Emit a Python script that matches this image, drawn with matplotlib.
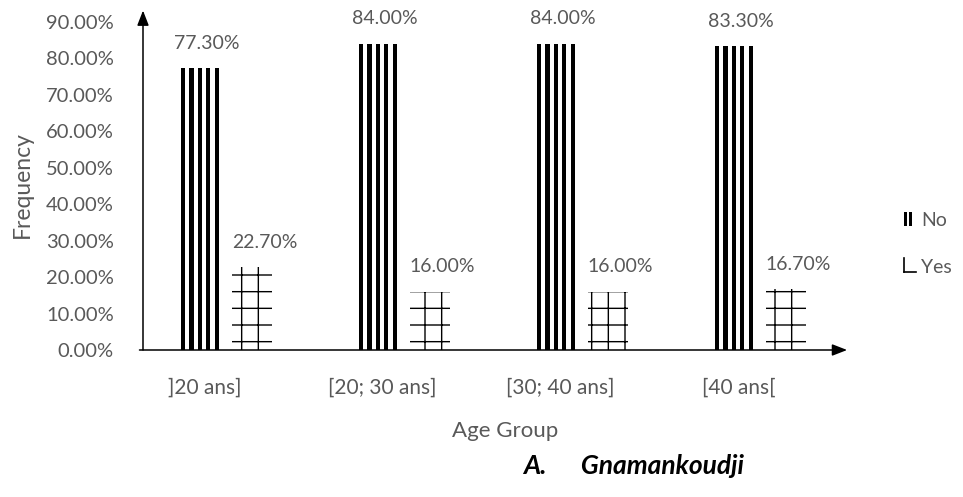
import numpy as np
import matplotlib.pyplot as plt
from matplotlib.patches import Rectangle
from matplotlib.lines import Line2D
from matplotlib.legend_handler import HandlerBase

plt.rcParams['font.family'] = ['Lato', 'DejaVu Sans']

age_groups = [']20 ans]', '[20; 30 ans]', '[30; 40 ans]', '[40 ans[']
no_pct = [77.3, 84.0, 84.0, 83.3]
yes_pct = [22.7, 16.0, 16.0, 16.7]
y_ticks = [0, 10, 20, 30, 40, 50, 60, 70, 80, 90]

grey = '#595959'
W, H = 963, 497


class StripeHandler(HandlerBase):
    # two thick bars, like the striped "No" columns
    def create_artists(self, legend, orig_handle, xd, yd, width, height, fontsize, trans):
        w = width * 0.32
        return [Rectangle((xd + i * width * 0.6, yd), w, height, facecolor='black',
                          edgecolor='none', transform=trans) for i in range(2)]


class CornerHandler(HandlerBase):
    # corner of the grid hatch used for "Yes"
    def create_artists(self, legend, orig_handle, xd, yd, width, height, fontsize, trans):
        v = Line2D([xd, xd], [yd, yd + height], color='black', lw=1.2, transform=trans)
        h = Line2D([xd, xd + width * 1.3], [yd, yd], color='black', lw=1.2, transform=trans)
        return [v, h]


fig = plt.figure(figsize=(W / 100, H / 100), dpi=100)
ax = fig.add_axes([143 / W, 147 / H, 702 / W, 328 / H])

x = np.arange(len(age_groups))
bar_w = 0.213
off = 0.146

# "No": five vertical black stripes per column
n_stripes = 5
stripe_w = 0.023
for k in range(n_stripes):
    pos = x - off - bar_w / 2 + stripe_w / 2 + k * (bar_w - stripe_w) / (n_stripes - 1)
    ax.bar(pos, no_pct, width=stripe_w, color='black', linewidth=0)

# "Yes": white columns with a grid hatch
ax.bar(x + off, yes_pct, width=0.225, facecolor='white', edgecolor='black',
       hatch='+', linewidth=0)

for xi, v in zip(x - off, no_pct):
    ax.annotate(f'{v:.2f}%', (xi, v), xytext=(5, 18), textcoords='offset points',
                ha='center', va='center', color=grey, fontsize=14)
for xi, v in zip(x + off, yes_pct):
    ax.annotate(f'{v:.2f}%', (xi, v), xytext=(9, 18), textcoords='offset points',
                ha='center', va='center', color=grey, fontsize=14)

ax.set_xlim(-0.466, 3.478)
ax.set_ylim(0, 90)
ax.set_yticks(y_ticks, [f'{t:.2f}%' for t in y_ticks])
ax.set_xticks(x - 0.12, age_groups)
ax.tick_params(axis='y', length=0, pad=21, labelsize=14.5, labelcolor=grey)
ax.tick_params(axis='x', length=0, pad=20, labelsize=15, labelcolor=grey)
for s in ax.spines.values():
    s.set_visible(False)

# axes drawn as arrows
ax.annotate('', xy=(0, 1.035), xytext=(0, 0), xycoords='axes fraction',
            arrowprops=dict(arrowstyle='-|>,head_length=0.9,head_width=0.35',
                            color='black', lw=1.1, shrinkA=0, shrinkB=0))
ax.annotate('', xy=(1.003, 0), xytext=(-0.005, 0), xycoords='axes fraction',
            arrowprops=dict(arrowstyle='-|>,head_length=0.9,head_width=0.35',
                            color='black', lw=1.1, shrinkA=0, shrinkB=0))

fig.text(22 / W, 1 - 185 / H, 'Frequency', rotation=90, ha='center', va='center',
         color=grey, fontsize=16.5)
fig.text(505 / W, 1 - 431 / H, 'Age Group', ha='center', va='center',
         color=grey, fontsize=16)
fig.text(634 / W, 1 - 466 / H, 'A.      Gnamankoudji', ha='center', va='center',
         color='black', fontsize=19, fontweight='bold', fontstyle='italic')

no_h = Rectangle((0, 0), 1, 1)
yes_h = Rectangle((0, 0), 1, 1)
fig.legend([no_h, yes_h], ['No', 'Yes'], loc='center left',
           bbox_to_anchor=(886 / W, 1 - 244 / H), frameon=False,
           handler_map={no_h: StripeHandler(), yes_h: CornerHandler()},
           handlelength=0.5, handleheight=0.75, handletextpad=0.4,
           labelspacing=1.5, fontsize=14, labelcolor=grey)

fig.savefig('out.png', dpi=100)
